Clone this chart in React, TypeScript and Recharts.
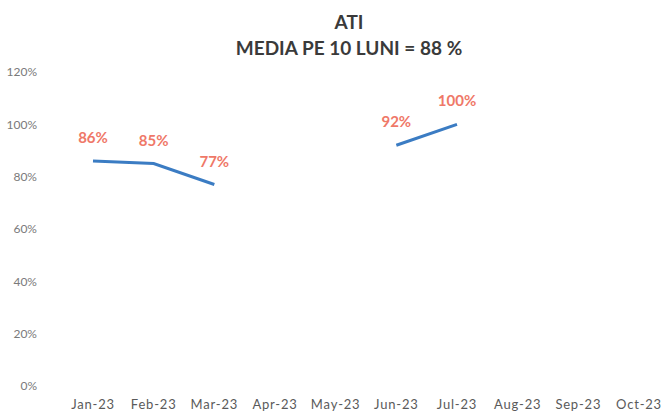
import { LineChart, Line, XAxis, YAxis, LabelList } from "recharts";

const months = ["Jan-23", "Feb-23", "Mar-23", "Apr-23", "May-23", "Jun-23", "Jul-23", "Aug-23", "Sep-23", "Oct-23"];
const atiValues: (number | null)[] = [86, 85, 77, null, null, 92, 100, null, null, null];
const yTicks = [0, 20, 40, 60, 80, 100, 120];

const data = months.map((month, i) => ({ month, ati: atiValues[i] }));

const font = "Lato, 'Open Sans', sans-serif";

export default function App() {
  return (
    <div style={{ position: "absolute", left: 0, top: 0, width: 672, height: 415, background: "#fff" }}>
      <div
        style={{
          position: "absolute",
          left: 0,
          width: 698,
          top: 9,
          textAlign: "center",
          fontFamily: font,
          fontWeight: 700,
          fontSize: 19,
          lineHeight: "26px",
          color: "#3a3a3a",
        }}
      >
        <div>ATI</div>
        <div>MEDIA PE 10 LUNI = 88 %</div>
      </div>
      <LineChart width={672} height={415} data={data} margin={{ top: 72, right: 2, bottom: 0, left: 0 }}>
        <XAxis
          dataKey="month"
          axisLine={false}
          tickLine={false}
          tickMargin={8}
          height={29}
          interval={0}
          padding={{ left: 31, right: 31 }}
          tick={{ fontSize: 13, fill: "#5a5a5a", fontFamily: font, letterSpacing: 0.8 }}
        />
        <YAxis
          domain={[0, 120]}
          ticks={yTicks}
          width={62}
          axisLine={false}
          tickLine={false}
          tickMargin={19}
          tickFormatter={(v) => `${v}%`}
          tick={{ fontSize: 12, fill: "#7a7a7a", fontFamily: font }}
        />
        <Line
          dataKey="ati"
          stroke="#3b7cc3"
          strokeWidth={3}
          dot={false}
          activeDot={false}
          connectNulls={false}
          isAnimationActive={false}
        >
          <LabelList
            dataKey="ati"
            position="top"
            offset={18}
            formatter={(v: any) => (v == null ? "" : `${v}%`)}
            style={{ fontSize: 15, fontWeight: 700, fill: "#ef7868", fontFamily: font }}
          />
        </Line>
      </LineChart>
    </div>
  );
}
